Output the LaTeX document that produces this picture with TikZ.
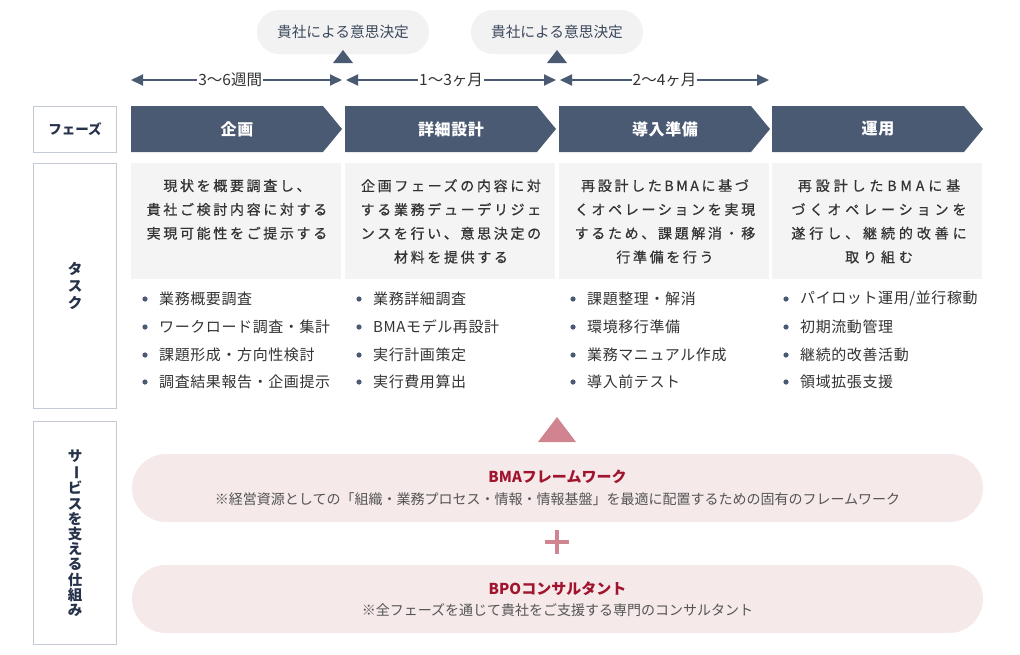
\documentclass[tikz,border=0pt]{standalone}
\usepackage{fontspec}
\usepackage{graphicx}
\setmainfont{Noto Sans CJK JP}
\newfontfamily\spA[LetterSpace=19,FakeBold=0.6]{Noto Sans CJK JP}
\newfontfamily\spB[LetterSpace=28,FakeBold=0.6]{Noto Sans CJK JP}
\newfontfamily\itemfont[LetterSpace=4]{Noto Sans CJK JP}
\newfontfamily\phasefont[LetterSpace=4]{Noto Sans CJK JP}
\usetikzlibrary{arrows.meta}
\definecolor{navy}{HTML}{4B5A73}
\definecolor{ink}{HTML}{333333}
\definecolor{lblline}{HTML}{C3CAD5}
\definecolor{lbltext}{HTML}{26324A}
\definecolor{boxgray}{HTML}{F4F4F4}
\definecolor{pillgray}{HTML}{F2F2F2}
\definecolor{pinkfill}{HTML}{F5E9E9}
\definecolor{pinkmark}{HTML}{D0848F}
\definecolor{redtitle}{HTML}{A0142E}
\definecolor{subgray}{HTML}{555555}
\begin{document}
\begin{tikzpicture}[x=1pt,y=-1pt,
  lblbox/.style={draw=lblline, fill=white, line width=1pt, text=lbltext, font=\bfseries\fontsize{13.5}{15}\selectfont, align=center, inner sep=0pt},
  pill/.style={fill=pillgray, rounded corners=22pt, minimum width=172pt, minimum height=44pt, text=navy!80!black, font=\fontsize{14.7}{16}\selectfont, inner sep=0pt},
  tl/.style={navy, line width=2pt, {Triangle[length=12pt,width=11pt]}-{Triangle[length=12pt,width=11pt]}},
  tllabel/.style={fill=white, inner xsep=1pt, inner ysep=2pt, text=ink, font=\fontsize{15.5}{17}\selectfont},
  phasetext/.style={text=white, font=\phasefont\bfseries\fontsize{16}{18}\selectfont},
  graybox/.style={fill=boxgray, minimum width=210pt, minimum height=116pt, inner sep=0pt},
  tasktext/.style={anchor=north, align=center, text=ink, inner sep=0pt},
  item/.style={anchor=west, text=ink, font=\itemfont\fontsize{15}{17}\selectfont, inner sep=0pt},
  pinkpill/.style={fill=pinkfill, rounded corners=34pt, minimum width=851pt, minimum height=68pt, align=center, inner sep=0pt, font=\fontsize{14}{21.5}\selectfont},
]
\useasboundingbox (0,0) rectangle (1020,654);

% side labels
\node[lblbox, minimum width=83pt, minimum height=46pt] (lphase) at (75,129) {フェーズ};
\node[lblbox, minimum width=83pt, minimum height=245pt, font=\bfseries\fontsize{14.5}{17}\selectfont] (ltask) at (75,285.5) {タ\\ス\\ク};
\node[lblbox, minimum width=83pt, minimum height=223pt, font=\bfseries\fontsize{14.5}{15.2}\selectfont] (lserv) at (75,533)
  {サ\\\rotatebox[origin=c]{-90}{ー}\\ビ\\ス\\を\\支\\え\\る\\仕\\組\\み};

% decision pills and markers
\node[pill] (d1) at (343,32) {貴社による意思決定};
\node[pill] (d2) at (557,32) {貴社による意思決定};
\fill[navy] (343,50) -- (353,63) -- (333,63) -- cycle;
\fill[navy] (557,50) -- (567,63) -- (547,63) -- cycle;

% timeline
\coordinate (t1s) at (131,80); \coordinate (t1e) at (342,80);
\coordinate (t2s) at (346,80); \coordinate (t2e) at (556,80);
\coordinate (t3s) at (560,80); \coordinate (t3e) at (769,80);
\draw[tl] (t1s) -- (t1e) node[tllabel, pos=0.47] (tl1) {3〜6週間};
\draw[tl] (t2s) -- (t2e) node[tllabel, pos=0.5] (tl2) {1〜3ヶ月};
\draw[tl] (t3s) -- (t3e) node[tllabel, pos=0.5] (tl3) {2〜4ヶ月};

% phase arrows
\foreach \cx/\nm/\lb in {131/p1/企画, 345/p2/詳細設計, 559/p3/導入準備, 772/p4/運用} {
  \fill[navy] (\cx,106) -- (\cx+192,106) -- (\cx+211,129) -- (\cx+192,152) -- (\cx,152) -- cycle;
  \node[phasetext] (\nm) at (\cx+106,129) {\lb};
}

% task boxes
\foreach \cx/\nm in {131/g1, 345/g2, 559/g3, 772/g4} {
  \node[graybox] (\nm) at (\cx+105,221) {};
}
\node[tasktext, font=\spA\fontsize{14}{23.8}\selectfont] (x1) at (237,179) {現状を概要調査し、\\貴社ご検討内容に対する\\実現可能性をご提示する};
\node[tasktext, font=\spA\fontsize{14}{23.8}\selectfont] (x2) at (451,179) {企画フェーズの内容に対\\する業務デューデリジェ\\ンスを行い、意思決定の\\材料を提供する};
\node[tasktext, font=\spA\fontsize{14}{23.8}\selectfont] (x3) at (665,179) {再設計したBMAに基づ\\くオペレーションを実現\\するため、課題解消・移\\行準備を行う};
\node[tasktext, font=\spB\fontsize{14}{23.8}\selectfont] (x4) at (879,179) {再設計したBMAに基\\づくオペレーションを\\遂行し、継続的改善に\\取り組む};

% bullets
\foreach \cx in {131,345,559,772} {
  \foreach \yy in {299,327,355,382} {
    \fill[navy] (\cx+14,\yy) circle (2.6pt);
  }
}
\node[item] (a1) at (159,299) {業務概要調査};
\node[item] (a2) at (159,327) {ワークロード調査・集計};
\node[item] (a3) at (159,355) {課題形成・方向性検討};
\node[item] (a4) at (159,382) {調査結果報告・企画提示};
\node[item] (b1) at (373,299) {業務詳細調査};
\node[item] (b2) at (373,327) {BMAモデル再設計};
\node[item] (b3) at (373,355) {実行計画策定};
\node[item] (b4) at (373,382) {実行費用算出};
\node[item] (c1) at (587,299) {課題整理・解消};
\node[item] (c2) at (587,327) {環境移行準備};
\node[item] (c3) at (587,355) {業務マニュアル作成};
\node[item] (c4) at (587,382) {導入前テスト};
\node[item] (e1) at (800,299) {パイロット運用/並行稼動};
\node[item] (e2) at (800,327) {初期流動管理};
\node[item] (e3) at (800,355) {継続的改善活動};
\node[item] (e4) at (800,382) {領域拡張支援};

% support mechanism
\fill[pinkmark] (557,417) -- (576,442) -- (538,442) -- cycle;
\node[pinkpill] (s1) at (557.5,488) {{\bfseries\color{redtitle}\fontsize{15}{21.5}\selectfont BMAフレームワーク}\\{\color{subgray}※経営資源としての「組織・業務プロセス・情報・情報基盤」を最適に配置するための固有のフレームワーク}};
\draw[pinkmark, line width=4pt] (545,542) -- (569,542);
\draw[pinkmark, line width=4pt] (557,530) -- (557,554);
\node[pinkpill] (s2) at (557.5,599) {{\bfseries\color{redtitle}\fontsize{15}{21.5}\selectfont BPOコンサルタント}\\{\color{subgray}※全フェーズを通じて貴社をご支援する専門のコンサルタント}};
\end{tikzpicture}
\end{document}
